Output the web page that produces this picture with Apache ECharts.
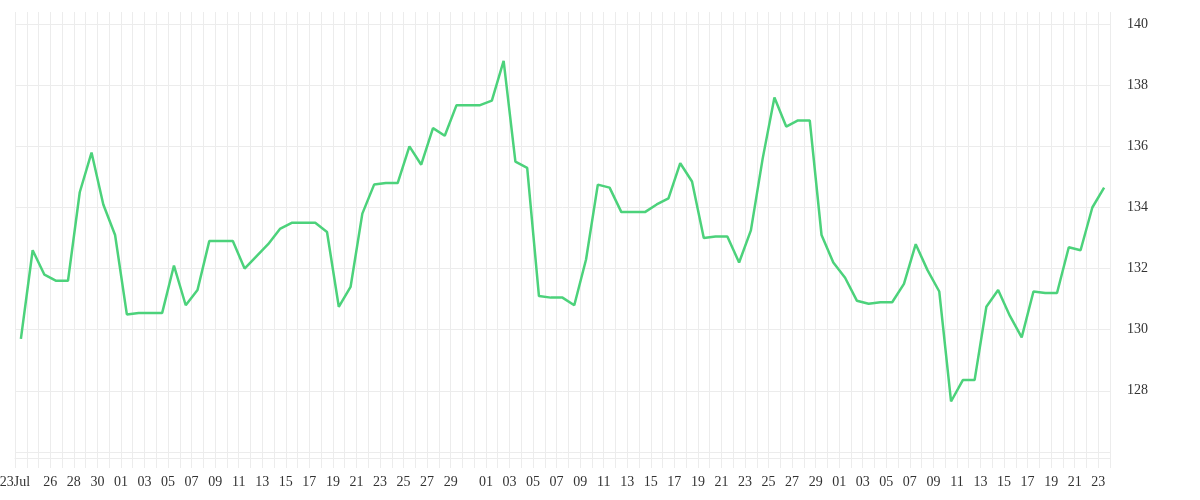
<!DOCTYPE html>
<html><head><meta charset="utf-8">
<script src="https://cdn.jsdelivr.net/npm/echarts@6/dist/echarts.min.js"></script>
<style>html,body{margin:0;padding:0;background:#fff}#c{width:1200px;height:500px}</style>
</head><body><div id="c"></div>
<script>
// Daily series starting 2025-07-23 (one value per calendar day)
const startDate = '2025-07-23';
const values = [
  129.7, 132.6, 131.8, 131.6, 131.6, 134.5, 135.8, 134.1, 133.1, 130.5,
  130.55, 130.55, 130.55, 132.1, 130.8, 131.3, 132.9, 132.9, 132.9, 132.0,
  132.4, 132.8, 133.3, 133.5, 133.5, 133.5, 133.2, 130.75, 131.4, 133.8,
  134.75, 134.8, 134.8, 136.0, 135.4, 136.6, 136.35, 137.35, 137.35, 137.35,
  137.5, 138.8, 135.5, 135.3, 131.1, 131.05, 131.05, 130.8, 132.3, 134.75,
  134.65, 133.85, 133.85, 133.85, 134.1, 134.3, 135.45, 134.85, 133.0, 133.05,
  133.05, 132.2, 133.25, 135.6, 137.6, 136.65, 136.85, 136.85, 133.1, 132.2,
  131.7, 130.95, 130.85, 130.9, 130.9, 131.5, 132.8, 131.95, 131.25, 127.65,
  128.35, 128.35, 130.75, 131.3, 130.45, 129.75, 131.25, 131.2, 131.2, 132.7,
  132.6, 134.0, 134.65
];
const labelDates = [
  '2025-07-23','2025-07-26','2025-07-28','2025-07-30',
  '2025-08-01','2025-08-03','2025-08-05','2025-08-07','2025-08-09','2025-08-11','2025-08-13','2025-08-15',
  '2025-08-17','2025-08-19','2025-08-21','2025-08-23','2025-08-25','2025-08-27','2025-08-29',
  '2025-09-01','2025-09-03','2025-09-05','2025-09-07','2025-09-09','2025-09-11','2025-09-13','2025-09-15',
  '2025-09-17','2025-09-19','2025-09-21','2025-09-23','2025-09-25','2025-09-27','2025-09-29',
  '2025-10-01','2025-10-03','2025-10-05','2025-10-07','2025-10-09','2025-10-11','2025-10-13','2025-10-15',
  '2025-10-17','2025-10-19','2025-10-21','2025-10-23'
];
const labelTexts = [
  '23Jul','26','28','30',
  '01','03','05','07','09','11','13','15','17','19','21','23','25','27','29',
  '01','03','05','07','09','11','13','15','17','19','21','23','25','27','29',
  '01','03','05','07','09','11','13','15','17','19','21','23'
];
const yTickValues = [126, 128, 130, 132, 134, 136, 138, 140];
const yLabelValues = [128, 130, 132, 134, 136, 138, 140];

const DAY = 86400000;
function utc(s) {
  const p = s.split('-').map(Number);
  return Date.UTC(p[0], p[1] - 1, p[2]);
}
const t0 = utc(startDate);
// x axis measured in days since startDate; each daily value sits mid-day
const nDays = values.length;
const tickDays = [];
for (let i = 0; i <= nDays; i++) tickDays.push(i);
const labelPos = labelDates.map(d => Math.round((utc(d) - t0) / DAY));
const labelMap = {};
labelPos.forEach((p, i) => { labelMap[p] = labelTexts[i]; });
const seriesData = values.map((v, i) => [i + 0.5, v]);

const gridColor = '#ececec';
const chart = echarts.init(document.getElementById('c'));
chart.setOption({
  animation: false,
  grid: { left: 15, right: 90, top: 12, bottom: 42, containLabel: false, outerBoundsMode: 'none' },
  xAxis: {
    type: 'value',
    min: 0,
    max: nDays,
    axisLine: { show: true, lineStyle: { color: gridColor, width: 1 } },
    axisTick: { show: true, length: 10, customValues: tickDays, lineStyle: { color: gridColor } },
    splitLine: { show: true, lineStyle: { color: gridColor, width: 1 } },
    axisLabel: {
      customValues: labelPos,
      formatter: function (v) { return labelMap[Math.round(v)] != null ? labelMap[Math.round(v)] : ''; },
      margin: 17, fontFamily: 'Liberation Serif', fontSize: 14, color: '#333',
      hideOverlap: false
    }
  },
  yAxis: {
    type: 'value',
    position: 'right',
    min: 125.8,
    max: 140.4,
    axisLine: { show: false },
    axisTick: { show: false, customValues: yTickValues },
    splitLine: { show: true, lineStyle: { color: gridColor, width: 1 } },
    axisLabel: {
      customValues: yLabelValues,
      padding: [6, 0, 0, 0],
      margin: 17, fontFamily: 'Liberation Serif', fontSize: 14, color: '#333'
    }
  },
  series: [{
    type: 'line',
    data: seriesData,
    showSymbol: false,
    symbol: 'none',
    lineStyle: { color: '#4cd27b', width: 2.5 },
    itemStyle: { color: '#4cd27b' }
  }]
});
</script>
</body></html>
